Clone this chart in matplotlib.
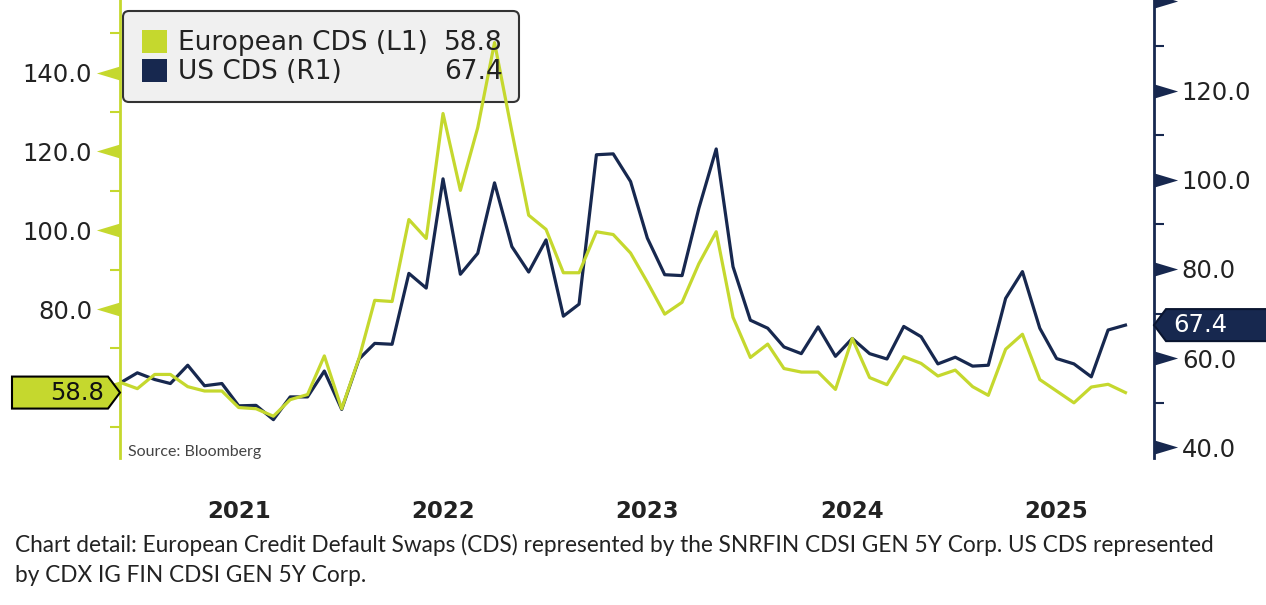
import pandas as pd
import matplotlib
matplotlib.use("Agg")
import matplotlib.pyplot as plt
from matplotlib.patches import Polygon, FancyBboxPatch, Rectangle
from matplotlib.transforms import IdentityTransform
from matplotlib.ticker import FixedLocator, FixedFormatter

W, H = 1266, 605

# monthly data, Dec 2020 .. Nov 2025
dates = pd.date_range("2020-12-01", periods=60, freq="MS")

euro_cds = [61.4, 59.8, 63.4, 63.4, 60.3, 59.2, 59.2, 55.0, 54.7, 52.8,
            57.0, 58.3, 68.1, 54.7, 67.5, 82.2, 81.9, 102.7, 97.9, 129.6,
            110.1, 126.0, 147.6, 125.0, 103.8, 100.2, 89.2, 89.2, 99.6, 98.9,
            94.2, 86.8, 78.7, 81.7, 91.5, 99.6, 77.9, 67.7, 71.1, 64.9,
            64.0, 64.0, 59.6, 72.5, 62.6, 60.8, 67.9, 66.2, 63.0, 64.5,
            60.3, 58.1, 69.8, 73.6, 62.1, 59.2, 56.2, 60.2, 60.9, 58.8]

us_cds = [54.4, 56.7, 55.2, 54.3, 58.4, 53.8, 54.3, 49.3, 49.4, 46.2,
          51.3, 51.3, 57.1, 48.5, 59.8, 63.3, 63.1, 79.0, 75.7, 100.2,
          78.8, 83.5, 99.3, 85.0, 79.3, 86.5, 69.4, 72.1, 105.6, 105.8,
          99.6, 86.9, 78.7, 78.5, 93.6, 106.9, 80.5, 68.5, 66.7, 62.5,
          61.0, 67.0, 60.4, 64.4, 61.0, 59.8, 67.1, 64.8, 58.7, 60.2,
          58.2, 58.4, 73.4, 79.4, 66.7, 59.9, 58.7, 55.8, 66.3, 67.4]

years = [2021, 2022, 2023, 2024, 2025]
left_major = [60, 80, 100, 120, 140]
left_labels = ["", "80.0", "100.0", "120.0", "140.0"]   # 60 sits under the value tag
left_minor = [50, 70, 90, 110, 130, 150]
right_major = [40, 60, 80, 100, 120, 140]
right_labels = ["40.0", "60.0", "80.0", "100.0", "120.0", ""]
right_minor = [50, 70, 90, 110, 130]

EURO = "#c5d82e"
US = "#17284f"
TXT = "#222222"

fig = plt.figure(figsize=(W / 100, H / 100), dpi=100)
ax = fig.add_axes([120 / W, 1 - 458 / H, (1154 - 120) / W, 458 / H])
ax2 = ax.twinx()
# european line sits on top of the us line
ax.set_zorder(ax2.get_zorder() + 1)
ax.patch.set_visible(False)

ax.plot(dates, euro_cds, color=EURO, lw=2.3, zorder=3)
ax2.plot(dates, us_cds, color=US, lw=2.3, zorder=3)

ax.set_xlim(dates[0], pd.Timestamp("2025-12-22"))
ax.set_ylim(42.2, 158.4)
ax2.set_ylim(37.6, 140.3)

for s in ["top", "bottom", "right"]:
    ax.spines[s].set_visible(False)
for s in ["top", "bottom", "left"]:
    ax2.spines[s].set_visible(False)
ax.spines["left"].set_color(EURO)
ax.spines["left"].set_linewidth(2)
ax2.spines["right"].set_color(US)
ax2.spines["right"].set_linewidth(2)

# x axis: year labels in the middle of each year
ax.set_xticks([pd.Timestamp(f"{y}-07-01") for y in years])
ax.set_xticklabels([str(y) for y in years], fontweight="bold")
ax.tick_params(axis="x", length=0, pad=30, labelsize=16.5, labelcolor=TXT)

# left axis
ax.yaxis.set_major_locator(FixedLocator(left_major))
ax.yaxis.set_minor_locator(FixedLocator(left_minor))
ax.yaxis.set_major_formatter(FixedFormatter(left_labels))
ax.tick_params(axis="y", which="major", length=0, pad=20, labelsize=17.5, labelcolor=TXT)
ax.tick_params(axis="y", which="minor", length=7, width=1.5, color=EURO, direction="out")

# right axis
ax2.yaxis.set_major_locator(FixedLocator(right_major))
ax2.yaxis.set_minor_locator(FixedLocator(right_minor))
ax2.yaxis.set_major_formatter(FixedFormatter(right_labels))
ax2.tick_params(axis="y", which="major", length=0, pad=20, labelsize=17.5, labelcolor=TXT)
ax2.tick_params(axis="y", which="minor", length=7, width=1.5, color=US, direction="out")

# arrow shaped major ticks
left_tri = [(0, -0.3), (-1, 0), (0, 0.3)]
right_tri = [(0, -0.3), (1, 0), (0, 0.3)]
ax.plot([0] * len(left_major), left_major, transform=ax.get_yaxis_transform(),
        ls="none", marker=left_tri, ms=34, mfc=EURO, mec="none", clip_on=False, zorder=4)
ax2.plot([1] * len(right_major), right_major, transform=ax2.get_yaxis_transform(),
         ls="none", marker=right_tri, ms=34, mfc=US, mec="none", clip_on=False, zorder=4)

# legend (drawn under the lines, like the original)
disp = IdentityTransform()
ax.add_patch(FancyBboxPatch((123, H - 102), 396, 91, boxstyle="round,pad=0,rounding_size=6",
                            transform=disp, fc="#f0f0f0", ec="#333333", lw=1.5, zorder=1))
ax.add_patch(Rectangle((142, H - 53), 25, 23, transform=disp, fc=EURO, ec="none", zorder=2))
ax.add_patch(Rectangle((142, H - 82), 25, 23, transform=disp, fc=US, ec="none", zorder=2))
for name, val, yc in [("European CDS (L1)", euro_cds[-1], 43), ("US CDS (R1)", us_cds[-1], 72)]:
    fig.text(178 / W, 1 - yc / H, name, fontsize=19, color=TXT, va="center", ha="left", zorder=2)
    fig.text(503 / W, 1 - yc / H, f"{val:.1f}", fontsize=19, color=TXT, va="center", ha="right", zorder=2)

# last value tags on both axes
fig.canvas.draw()
sx, sy = ax.get_yaxis_transform().transform((0, euro_cds[-1]))
tag_l = Polygon([(sx, sy), (sx - 12, sy + 16), (sx - 108, sy + 16), (sx - 108, sy - 16), (sx - 12, sy - 16)],
                closed=True, transform=disp, fc=EURO, ec="black", lw=1.5, zorder=10)
fig.add_artist(tag_l)
fig.text((sx - 16) / W, sy / H, f"{euro_cds[-1]:.1f}", fontsize=17.5, color="#111111",
         ha="right", va="center", zorder=11)

rx, ry = ax2.get_yaxis_transform().transform((1, us_cds[-1]))
tag_r = Polygon([(rx, ry), (rx + 12, ry + 16), (W + 10, ry + 16), (W + 10, ry - 16), (rx + 12, ry - 16)],
                closed=True, transform=disp, fc=US, ec="#0a1530", lw=1.5, zorder=10)
fig.add_artist(tag_r)
fig.text((rx + 19) / W, ry / H, f"{us_cds[-1]:.1f}", fontsize=17.5, color="white",
         ha="left", va="center", zorder=11)

fig.text(128 / W, 1 - 452 / H, "Source: Bloomberg", fontsize=11.5, family="Lato",
         color="#444444", va="center")

fig.text(15 / W, 1 - 552 / H,
         "Chart detail: European Credit Default Swaps (CDS) represented by the SNRFIN CDSI GEN 5Y Corp. US CDS represented",
         fontsize=16.3, family="Lato", color="#222222", va="baseline")
fig.text(15 / W, 1 - 582 / H, "by CDX IG FIN CDSI GEN 5Y Corp.",
         fontsize=16.3, family="Lato", color="#222222", va="baseline")

fig.savefig("out.png", dpi=100)
